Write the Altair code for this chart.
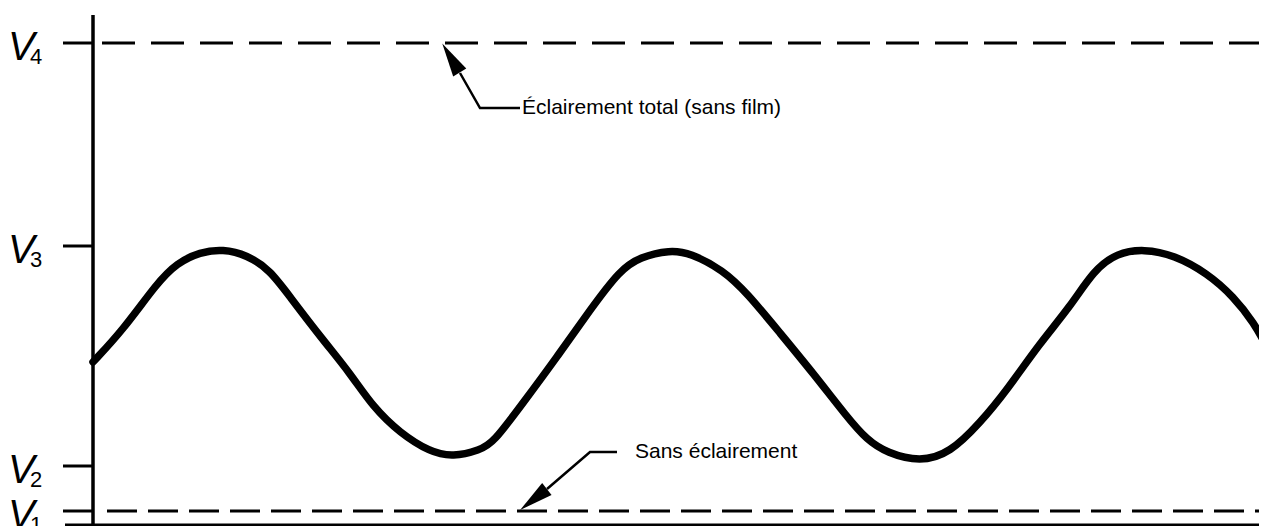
import altair as alt
import pandas as pd

# ---- data (chart units: time along x, signal level along y) ----
curve_t = [0.00, 0.30, 0.64, 0.84, 1.07, 1.30, 1.54, 1.77, 1.97, 2.30, 2.57, 2.80,
           3.07, 3.37, 3.60, 3.87, 4.00, 4.30, 4.64, 4.97, 5.27, 5.47, 5.77, 5.97,
           6.30, 6.54, 6.87, 7.20, 7.54, 7.74, 7.94, 8.27, 8.57, 8.87, 9.14, 9.47,
           9.77, 10.01, 10.24, 10.51, 10.81, 11.14, 11.41, 11.61, 11.74]
curve_v = [1.63, 1.95, 2.42, 2.62, 2.73, 2.76, 2.70, 2.55, 2.28, 1.85, 1.52, 1.18,
           0.92, 0.73, 0.68, 0.75, 0.82, 1.22, 1.68, 2.15, 2.55, 2.68, 2.75, 2.72,
           2.55, 2.32, 1.92, 1.52, 1.08, 0.85, 0.72, 0.63, 0.72, 1.02, 1.35, 1.82,
           2.18, 2.55, 2.72, 2.76, 2.70, 2.52, 2.28, 2.02, 1.78]

level_sub = ["1", "2", "3", "4"]
level_val = [0.14, 0.59, 2.79, 4.82]

ann_text = ["Éclairement total (sans film)", "Sans éclairement"]
ann_text_t = [4.29, 5.42]
ann_text_v = [4.17, 0.73]

lead_id = [0, 0, 0, 1, 1, 1]
lead_order = [0, 1, 2, 0, 1, 2]
lead_t = [3.67, 3.87, 4.27, 4.54, 4.97, 5.24]
lead_v = [4.52, 4.17, 4.17, 0.36, 0.73, 0.73]

head_t = [3.58, 4.405]
head_v = [4.67, 0.255]
head_angle = [329, 232]

X_MIN, X_MAX = 0.0, 11.66
Y_MIN, Y_MAX = 0.05, 5.15
AXIS_TOP = 5.10
TICK_LEFT = -0.30

xs = alt.Scale(domain=[X_MIN, X_MAX], nice=False, zero=False)
ys = alt.Scale(domain=[Y_MIN, Y_MAX], nice=False, zero=False)

curve_df = pd.DataFrame({"t": curve_t, "v": curve_v})
levels_df = pd.DataFrame({"sub": level_sub, "v": level_val,
                          "x0": [TICK_LEFT] * 4, "x1": [0.0] * 4,
                          "vlab": ["V"] * 4,
                          "lx": [-0.85] * 4, "sx": [-0.63] * 4})
ann_df = pd.DataFrame({"txt": ann_text, "t": ann_text_t, "v": ann_text_v})
lead_df = pd.DataFrame({"id": lead_id, "o": lead_order, "t": lead_t, "v": lead_v})
head_df = pd.DataFrame({"t": head_t, "v": head_v, "a": head_angle})
dash_top_df = pd.DataFrame({"t": [0.09], "t2": [X_MAX + 0.2], "v": [level_val[3]]})
dash_bot_df = pd.DataFrame({"t": [0.14], "t2": [X_MAX + 0.2], "v": [level_val[0]]})
yaxis_df = pd.DataFrame({"t": [0.0], "v": [0.0], "v2": [AXIS_TOP]})
xaxis_df = pd.DataFrame({"t": [-0.28], "t2": [X_MAX + 0.2], "v": [0.0]})

curve = alt.Chart(curve_df).mark_line(color="black", strokeWidth=7.5,
                                      interpolate="basis", strokeCap="round").encode(
    x=alt.X("t:Q", scale=xs, axis=None), y=alt.Y("v:Q", scale=ys, axis=None))

dash_top = alt.Chart(dash_top_df).mark_rule(color="black", strokeWidth=3,
                                            strokeDash=[33, 16]).encode(
    x=alt.X("t:Q", scale=xs, axis=None), x2="t2:Q", y=alt.Y("v:Q", scale=ys, axis=None))
dash_bot = alt.Chart(dash_bot_df).mark_rule(color="black", strokeWidth=3,
                                            strokeDash=[30, 11]).encode(
    x=alt.X("t:Q", scale=xs, axis=None), x2="t2:Q", y=alt.Y("v:Q", scale=ys, axis=None))

ticks = alt.Chart(levels_df).mark_rule(color="black", strokeWidth=3).encode(
    x=alt.X("x0:Q", scale=xs, axis=None), x2="x1:Q", y=alt.Y("v:Q", scale=ys, axis=None))

yaxis = alt.Chart(yaxis_df).mark_rule(color="black", strokeWidth=3.5).encode(
    x=alt.X("t:Q", scale=xs, axis=None), y=alt.Y("v:Q", scale=ys, axis=None), y2="v2:Q")
xaxis = alt.Chart(xaxis_df).mark_rule(color="black", strokeWidth=3).encode(
    x=alt.X("t:Q", scale=xs, axis=None), x2="t2:Q", y=alt.Y("v:Q", scale=ys, axis=None))

vlab = alt.Chart(levels_df).mark_text(font="Liberation Sans", fontStyle="italic",
                                      fontSize=40, align="left", baseline="alphabetic",
                                      dy=17, color="black").encode(
    x=alt.X("lx:Q", scale=xs, axis=None), y=alt.Y("v:Q", scale=ys, axis=None), text="vlab:N")
vsub = alt.Chart(levels_df).mark_text(font="Liberation Sans", fontSize=22, align="left",
                                      baseline="alphabetic", dy=21, color="black").encode(
    x=alt.X("sx:Q", scale=xs, axis=None), y=alt.Y("v:Q", scale=ys, axis=None), text="sub:N")

leads = alt.Chart(lead_df).mark_line(color="black", strokeWidth=2.5).encode(
    x=alt.X("t:Q", scale=xs, axis=None), y=alt.Y("v:Q", scale=ys, axis=None),
    detail="id:N", order="o:Q")

heads = alt.Chart(head_df).mark_point(shape="M0,-1L0.45,1L-0.45,1Z", filled=True,
                                      color="black", opacity=1, size=1150).encode(
    x=alt.X("t:Q", scale=xs, axis=None), y=alt.Y("v:Q", scale=ys, axis=None),
    angle=alt.Angle("a:Q", scale=None))

ann = alt.Chart(ann_df).mark_text(font="Liberation Sans", fontSize=21, align="left",
                                  baseline="middle", color="black").encode(
    x=alt.X("t:Q", scale=xs, axis=None), y=alt.Y("v:Q", scale=ys, axis=None), text="txt:N")

chart = alt.layer(dash_top, dash_bot, ticks, yaxis, xaxis, curve, leads, heads,
                  ann, vlab, vsub).properties(
    width=1166, height=510,
    padding={"left": 85, "top": 2, "right": 0, "bottom": 6},
    autosize="none", background="white"
).configure_view(stroke=None)

chart.save("out.html", embed_options={"renderer": "svg", "actions": False})
